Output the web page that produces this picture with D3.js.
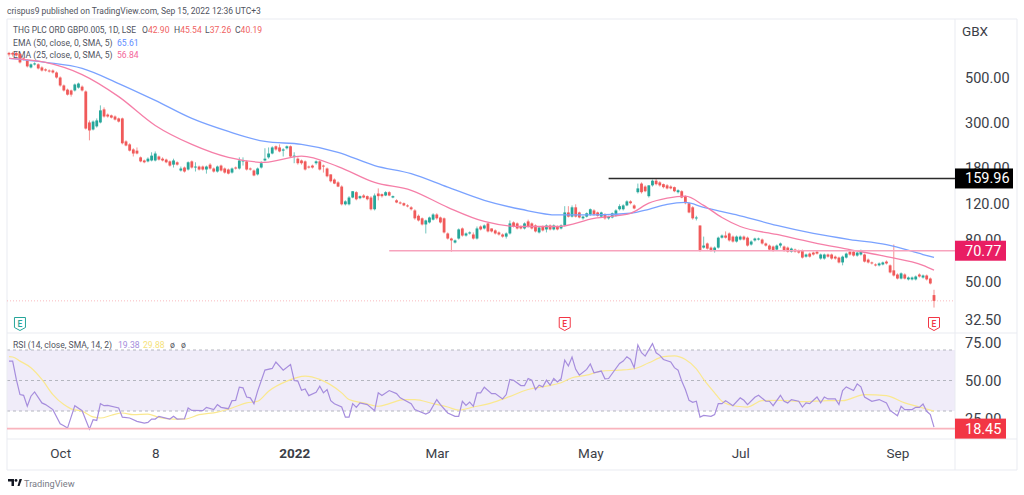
<!DOCTYPE html>
<html>
<head>
<meta charset="utf-8">
<script src="https://cdnjs.cloudflare.com/ajax/libs/d3/7.8.5/d3.min.js"></script>
<style>
html, body { margin: 0; padding: 0; background: #fff; }
svg { display: block; font-family: Roboto, sans-serif; }
.axis text { fill: #3b3e47; font-size: 14.5px; font-family: Roboto, sans-serif; }
.axis.time text { font-size: 13.5px; }
.axis path, .axis line { display: none; }
</style>
</head>
<body>
<div id="chart"></div>
<script>
// daily candles (GBX)
var opens = [
660,660,660,653,620,606,560,580,580,560,
548,541,541,529,500,457,436,432,432,446,
451,427,301,278,288,301,349,329,326,322,
315,315,243,235,222,219,203,196,194,196,
196,205,200,198,194,187,192,175,181,177,
194,181,183,183,177,187,179,173,185,179,
177,171,181,179,194,194,179,175,167.5,181,
196,203,212,230,227,219,225,230,207,200,
196,194,183,185,190,194,185,179,167.5,158,
153,146,119.5,119.5,129,137,128,132,131,129,
113,135,134,132,137,129,125,122,121,118,
115.5,111.5,105,102,95.2,97.4,100.5,106.5,103,102,
86,81.2,77.6,81.2,91,84,86,85,81.2,93,
91,96.3,91,89,87,85,83,86,97.4,96.3,
93,91,98.5,96.3,94.1,87,93,90,94.1,90,
93,91,94.1,109,104,115.5,109,102,104,106.5,
111.5,109,104,106.5,102,103,105,113,113,118,
123.5,118,137,151,146,131,148,156,153,150,
148,146,145,137,138.5,131,121,115.5,102,94.1,
73.3,76.8,73.3,71,73.3,82,84,86,83,78.5,
80.3,83,82,75.9,79.5,80.3,80.3,76.8,75,74.2,
71.7,75,74.2,73.3,70,71.7,71,71,66.2,68.5,
69.3,70,64.8,64.8,67.8,67.8,66.2,65.5,62,65.5,
70,70,67,67.8,67.8,64,62,60.6,60,60.6,
62.6,60,56.7,54.1,51.7,54.1,51.2,51.2,51.2,54.1,
52.3,53.5,51.7,42.9];
var closes = [
648,648,641,593,613,567,580,586,554,541,
541,535,529,500,457,432,412,412,462,467,
432,281,275,304,308,345,322,322,318,311,
304,238,232,219,212,212,194,192,200,207,
212,198,196,192,185,196,187,179,173,192,
181,183,177,177,183,179,173,183,175,171,
169,179,179,196,196,177,177,165.5,179,190,
200,212,227,222,217,222,230,205,207,190,
190,177,181,181,194,177,183,164,155,151,
146,119.5,123.5,129,138.5,126.5,131,129,126.5,113,
132,131,131,137,132,131,122,121,118,117,
113,102,99.6,95.2,99.6,103,106.5,102,97.4,87,
81.2,79.5,79.5,90,84,86,87,81.2,91,90,
94.1,88,88,86,85,83,86,96.3,93,91,
91,96.3,93,91,88,92,89,94.1,90,94.1,
90,94.1,109,104,115.5,104,103,104,108,113,
106.5,105,109,102,104,108,111.5,117,118,123.5,
121,114,143,137,138.5,148,156,150,148,145,
143,143,138.5,140,129,121,109,102,103,71,
75,72.5,71,73.3,82,84,82,79.5,78.5,83,
83,80.3,75,78.5,81.2,81.2,76.8,75,71.7,71,
75,76.8,71,70,72.5,70,69.3,65.5,67.8,66.2,
67.8,68.5,67.8,67.8,66.2,64.8,64.8,62,66.2,68.5,
67.8,67,69.3,71,62.6,62,61.3,60,61.3,62,
61.3,55.4,53.5,51.7,54.8,51.7,52.3,52.3,52.9,52.9,
53.5,51.2,48.9,40.19];
var highs = [
668,668,668,660,627,613,586,593,586,567,
554,548,548,535,506,462,441,436,467,472,
457,432,308,308,315,365,357,333,329,326,
318,318,246,238,225,227,205,198,203,215,
217,207,203,200,196,200,194,183,183,194,
196,192,185,185,185,190,181,185,187,181,
179,181,183,203,203,196,181,177,181,194,
225,227,230,232,235,225,232,232,215,203,
198,196,185,187,196,196,187,181,167.5,160,
155,148,125,131,138.5,138.5,132,134,132,131,
135,143,135,138.5,138.5,132,126.5,123.5,122,119.5,
117,113,106.5,103,100.5,104,108,108,104,103,
87,82,80.3,91,92,87,88,87,93,94.1,
95.2,97.4,91,90,88,86,87,99.6,98.5,97.4,
94.1,97.4,100.5,97.4,95.2,93,94.1,95.2,95.2,95.2,
94.1,95.2,117,117,118,119.5,110,105,109,114,
113,110,110,108,105,109,113,119.5,119.5,125,
125,119.5,151,153,148,148,158,160,155,151,
150,148,146,141.5,140,132,122,117,105,94.1,
83,77.6,74.2,74.2,83,85,88,87,84,84,
84,84,83,79.5,82,82,81.2,77.6,75.9,75,
75.9,77.6,75,74.2,73.3,72.5,71.7,71.7,68.5,69.3,
70,71,68.5,68.5,68.5,68.5,67,66.2,67,69.3,
71,71,70,71.7,68.5,64.8,62.6,61.3,62,62.6,
63.4,60.6,75.9,54.8,55.4,54.8,52.9,52.9,53.5,54.8,
54.1,54.1,52.3,45.54];
var lows = [
634,634,634,586,606,560,554,573,548,535,
535,529,523,494,451,427,408,403,427,441,
427,278,246,275,284,298,318,318,315,308,
301,235,230,217,205,210,192,190,192,194,
194,196,194,190,183,181,185,173,171,175,
179,173,175,175,169,177,171,171,173,169,
167.5,169,177,177,185,175,175,164,165.5,179,
194,200,210,219,215,205,222,203,190,187,
187,175,179,179,187,175,171,162,153,150,
145,118,118,118,128,125,126.5,128,125,111.5,
111.5,125,129,131,131,128,121,119.5,117,115.5,
111.5,100.5,98.5,94.1,86,96.3,99.6,100.5,96.3,86,
80.3,70,76.8,80.3,83,83,85,80.3,80.3,89,
90,87,87,85,84,82,81.2,85,92,90,
90,90,92,90,87,86,88,87,89,89,
89,90,93,103,103,103,102,100.5,103,105,
105,104,103,100.5,100.5,102,104,111.5,111.5,117,
119.5,113,135,135,137,129,146,148,146,143,
141.5,141.5,137,135,128,119.5,108,100.5,99.6,70,
72.5,71.7,70,69.3,72.5,81.2,81.2,78.5,77.6,77.6,
79.5,79.5,74.2,75,78.5,79.5,75.9,74.2,71,70,
71,73.3,70,69.3,69.3,69.3,68.5,64.8,65.5,65.5,
67,67.8,64,64,65.5,64,64,61.3,60,64.8,
67,66.2,66.2,67,62,61.3,60.6,59.3,59.3,60,
60.6,54.8,52.9,51.2,51.2,51.2,50.6,50.6,50.6,52.3,
51.7,50.6,48.4,37.26];

// moving averages, read at these bars
var emaBars = [0,10,20,30,40,50,60,70,80,90,100,110,120,130,140,150,160,170,175,180,185,190,195,200,210,220,230,240,250,253];
var ema50 = [620,593,554,467,386,315,272,243,235,215,185,169,145,125,113,106,106,108,113,119.5,122,115.5,110,105,94.1,86,80.3,75.9,67.8,65.61];
var ema25 = [620,593,517,403,291,235,203,192,206,183,153,140,115.5,98.5,93,93,102,108,121,128,131,118,103,93,85,77.6,71.7,66.2,60,56.84];

// RSI pane
var rsiBars = [0,1,2,3,4,5,6,7,9,10,12,14,15,16,18,20,22,23,24,25,26,27,30,31,33,35,37,38,39,40,41,44,45,46,48,49,50,53,54,56,57,58,60,61,62,63,64,65,66,67,68,70,72,73,75,77,78,79,80,81,82,84,85,86,87,88,89,91,
92,93,94,95,96,98,100,101,102,104,106,107,110,111,114,115,117,118,120,122,123,124,125,126,127,128,129,130,132,133,135,136,137,138,140,141,142,143,144,145,146,147,148,149,150,151,152,153,154,155,156,158,159,160,162,163,164,167,168,169,170,171,172,173,174,176,177,178,179,181,182,183,
184,185,186,187,188,189,190,192,193,194,195,196,198,200,201,202,204,205,207,208,209,211,212,213,214,216,217,218,219,221,222,223,224,226,227,228,229,231,232,233,234,236,238,240,241,243,244,245,247,248,249,250,251,252,253];
var rsiValues = [62.7,62.7,50.7,40.8,40.3,33.1,39.7,42.5,35.3,34.2,30.9,21.6,20.3,18.8,33.5,30.2,18.1,24.3,23.8,34.8,33.5,33.7,32,26,25.4,23.2,22.1,22.5,24.7,24.7,26.5,24.7,26.5,24.7,24.9,32,30.4,30.2,32.4,30.9,34.2,32.4,31.5,36.8,37,45.6,45.2,39.2,38.6,34.8,43,56.8,57.9,62.1,56.8,60.5,50,49.6,43.6,44.5,40.1,42.3,46.3,41.9,44.1,36.8,34.8,32.6,
26,26,34.8,32.4,35.3,34.2,30.2,41.9,40.1,43.4,41.4,38.6,34.8,30.9,28,29.1,37.5,34.2,28.7,26.5,26.5,36.4,33.7,35.9,33.1,41.9,41.9,45.6,41.4,41.4,37.9,40.8,50.7,50.2,46.7,46.7,51.3,50.2,44.1,46.9,45.8,50.2,46.9,51.3,49.1,51.1,63.4,59.5,65.4,57.3,53.5,57.3,60.8,55.1,56.2,51.1,51.3,61.2,62.7,65.6,63.8,58.4,73.3,68.2,66,74.2,68.2,66.5,63.8,62.1,58.4,56.8,
49.6,44.1,37,35.7,36.4,26,27.1,26.5,27.6,34.8,34.8,36.8,33.5,38.6,37,34.2,39,40.3,36.4,36.4,33.5,40.3,36.4,35.3,37.5,36.4,32.6,35.3,34.8,39.2,35.3,39.2,37.9,37.9,34.2,43.4,45.8,43.4,47.8,45.8,39.2,36.4,37.5,35.3,30.4,26.9,33.1,30.9,30.9,32.4,32.4,34.6,29.8,27.6,19.38];
var rsiMaBars = [0,1,3,6,9,12,15,17,20,23,25,28,31,34,38,41,45,48,52,57,61,65,68,71,76,81,85,91,93,97,101,104,108,111,116,120,123,127,132,136,142,147,151,154,158,162,167,171,175,179,182,185,188,190,193,195,199,202,206,211,217,224,228,234,240,245,249,253];
var rsiMa = [65.6,65.4,62.7,58.4,50.7,40.8,34.2,31.4,29.9,26.1,25.4,27.2,28.7,27.6,28,25.8,24.7,24.7,27.6,29.3,32,35.3,36.4,43,49.6,52.9,50.7,41.9,37.5,35.3,33.1,34.8,37.5,37.5,34.8,32.6,30.6,32.6,35.3,38.6,44.1,46.3,48.5,51.8,53.5,56.2,56.8,57.7,61.6,65.6,66.2,63.8,57.7,50.7,41.9,36.4,33.1,32.6,36.8,37,36.1,36.8,36.8,40.8,40.1,35.3,32.6,29.88];

var priceTicks = [500,300,180,120,80,50,32.5];
var rsiTicks = [75,50,25];
var rsiGuides = [70,50,30];
var timeBars = [14,40,78,117,159,200,243];
var timeLabels = ["Oct","8","2022","Mar","May","Jul","Sep"];
var earningsBars = [3,152,253];
var earningsColors = ["#26a69a","#f23645","#f23645"];

var lastPrice = 40.19, lastRsi = 18.45;
var levelValues = [70.77,159.96];
var levelStarts = [104,164];

var width = 1024, height = 495;
var up = "#26a69a", down = "#f05a5a", frame = "#e9ebf1";
var left = 7, axisX = 955, right = 1017;

var svg = d3.select("#chart").append("svg").attr("width", width).attr("height", height);

var x = d3.scaleLinear().domain([0, opens.length - 1]).range([9, 934]);
var y = d3.scaleLog().domain([500, 50]).range([77.5, 281.5]);
var yRsi = d3.scaleLinear().domain([70, 30]).range([350, 411]);

// rsi band goes under everything
svg.append("rect")
    .attr("x", left).attr("y", yRsi(70))
    .attr("width", axisX - left).attr("height", yRsi(30) - yRsi(70))
    .attr("fill", "#f0ecf9");
svg.selectAll(".guide").data(rsiGuides).enter().append("line")
    .attr("class", "guide")
    .attr("x1", left).attr("x2", axisX)
    .attr("y1", yRsi).attr("y2", yRsi)
    .attr("stroke", "#b4b6bf").attr("stroke-dasharray", "3 3");

// frame
var frameLines = [
    [left, 19, right, 19], [left, 470, right, 470], [left, 19, left, 470], [right, 19, right, 470],
    [axisX, 19, axisX, 470], [left, 333, right, 333], [left, 439, right, 439]
];
svg.selectAll(".frame").data(frameLines).enter().append("line")
    .attr("class", "frame")
    .attr("x1", function(d) { return d[0]; }).attr("y1", function(d) { return d[1]; })
    .attr("x2", function(d) { return d[2]; }).attr("y2", function(d) { return d[3]; })
    .attr("stroke", frame);

// header and legends
svg.append("text").attr("x", left).attr("y", 14).attr("font-size", 8.5).attr("fill", "#50535e")
    .text("crispus9 published on TradingView.com, Sep 15, 2022 12:36 UTC+3");

var legend = svg.append("g").attr("font-size", 8.6);
legend.append("text").attr("x", 13).attr("y", 33).attr("fill", "#50535e").attr("font-size", 8.4)
    .text("THG PLC ORD GBP0.005, 1D, LSE");
[["O", "42.90", 142], ["H", "45.54", 174], ["L", "37.26", 205], ["C", "40.19", 235]].forEach(function(d) {
    var t = legend.append("text").attr("x", d[2]).attr("y", 33).attr("fill", "#50535e");
    t.append("tspan").text(d[0]);
    t.append("tspan").attr("fill", "#f0625f").text(d[1]);
});
legend.append("text").attr("x", 13).attr("y", 45.5).attr("fill", "#50535e").text("EMA (50, close, 0, SMA, 5)");
legend.append("text").attr("x", 117).attr("y", 45.5).attr("fill", "#5f8dff").text("65.61");
legend.append("text").attr("x", 13).attr("y", 57.5).attr("fill", "#50535e").text("EMA (25, close, 0, SMA, 5)");
legend.append("text").attr("x", 117).attr("y", 57.5).attr("fill", "#f4679a").text("56.84");
legend.append("text").attr("x", 13).attr("y", 348).attr("fill", "#50535e").text("RSI (14, close, SMA, 14, 2)");
legend.append("text").attr("x", 118).attr("y", 348).attr("fill", "#a58ddc").text("19.38");
legend.append("text").attr("x", 143).attr("y", 348).attr("fill", "#f5e27a").text("29.88");
legend.append("text").attr("x", 170).attr("y", 348).attr("fill", "#50535e").text("ø");
legend.append("text").attr("x", 181).attr("y", 348).attr("fill", "#50535e").text("ø");

// last price dotted line
svg.append("line")
    .attr("x1", left).attr("x2", axisX)
    .attr("y1", y(lastPrice)).attr("y2", y(lastPrice))
    .attr("stroke", "#f9b9bd").attr("stroke-dasharray", "1 2");

// candles
var bars = d3.range(opens.length);
var bw = 2.8;
var color = function(i) { return closes[i] >= opens[i] ? up : down; };
var g = svg.append("g");
g.selectAll(".wick").data(bars).enter().append("line")
    .attr("class", "wick")
    .attr("x1", x).attr("x2", x)
    .attr("y1", function(i) { return y(highs[i]); })
    .attr("y2", function(i) { return y(lows[i]); })
    .attr("stroke", color).attr("stroke-opacity", 0.65);
g.selectAll(".body").data(bars).enter().append("rect")
    .attr("class", "body")
    .attr("x", function(i) { return x(i) - bw / 2; })
    .attr("y", function(i) { return y(Math.max(opens[i], closes[i])); })
    .attr("width", bw)
    .attr("height", function(i) { return Math.max(1, Math.abs(y(opens[i]) - y(closes[i]))); })
    .attr("fill", color);

// moving averages
var emaLine = d3.line()
    .x(function(d) { return x(d[0]); })
    .y(function(d) { return y(d[1]); })
    .curve(d3.curveMonotoneX);
svg.append("path").datum(d3.zip(emaBars, ema50)).attr("d", emaLine)
    .attr("fill", "none").attr("stroke", "#7aa2ff").attr("stroke-width", 1.3);
svg.append("path").datum(d3.zip(emaBars, ema25)).attr("d", emaLine)
    .attr("fill", "none").attr("stroke", "#f57fa8").attr("stroke-width", 1.3);

// drawn levels
svg.selectAll(".level").data(levelValues).enter().append("line")
    .attr("class", "level")
    .attr("x1", function(d, i) { return x(levelStarts[i]); }).attr("x2", axisX)
    .attr("y1", y).attr("y2", y)
    .attr("stroke", function(d, i) { return i ? "#2b2b2b" : "#f7a3bd"; })
    .attr("stroke-width", 1.5);

// earnings marks
var marks = svg.selectAll(".earn").data(earningsBars).enter().append("g")
    .attr("class", "earn")
    .attr("transform", function(d) { return "translate(" + x(d) + ",324)"; });
marks.append("path")
    .attr("d", "M-5.5,-6.5 H5.5 V3.5 L0,6.5 L-5.5,3.5 Z")
    .attr("fill", "#fff")
    .attr("stroke", function(d, i) { return earningsColors[i]; })
    .attr("stroke-linejoin", "round");
marks.append("text")
    .attr("text-anchor", "middle").attr("y", 3)
    .attr("font-size", 8.5).attr("font-weight", 500)
    .attr("fill", function(d, i) { return earningsColors[i]; })
    .text("E");

// rsi lines
var rsiLine = d3.line()
    .x(function(d) { return x(d[0]); })
    .y(function(d) { return yRsi(d[1]); });
svg.append("path").datum(d3.zip(rsiMaBars, rsiMa)).attr("d", rsiLine.curve(d3.curveMonotoneX))
    .attr("fill", "none").attr("stroke", "#fae88f").attr("stroke-width", 1.2);
svg.append("path").datum(d3.zip(rsiBars, rsiValues)).attr("d", rsiLine.curve(d3.curveLinear))
    .attr("fill", "none").attr("stroke", "#a68ddd").attr("stroke-width", 1.2);
svg.append("line")
    .attr("x1", left).attr("x2", axisX)
    .attr("y1", yRsi(lastRsi)).attr("y2", yRsi(lastRsi))
    .attr("stroke", "#f9b4bd").attr("stroke-width", 1.6);

// axes
svg.append("g").attr("class", "axis")
    .attr("transform", "translate(" + axisX + ",0)")
    .call(d3.axisRight(y).tickValues(priceTicks).tickSize(0).tickPadding(10).tickFormat(d3.format(".2f")));
svg.append("g").attr("class", "axis")
    .attr("transform", "translate(" + axisX + ",0)")
    .call(d3.axisRight(yRsi).tickValues(rsiTicks).tickSize(0).tickPadding(10).tickFormat(d3.format(".2f")));
var timeAxis = svg.append("g").attr("class", "axis time")
    .attr("transform", "translate(0,439)")
    .call(d3.axisBottom(x).tickValues(timeBars).tickSize(0).tickPadding(9)
        .tickFormat(function(d, i) { return timeLabels[i]; }));
timeAxis.selectAll("text")
    .style("font-weight", function(d, i) { return timeLabels[i] == "2022" ? 700 : 400; });

svg.append("text").attr("x", 962).attr("y", 36).attr("font-size", 13.5).attr("fill", "#3b3e47").text("GBX");

// price badges
var badges = [
    { scale: y, v: 159.96, color: "#000000", w: 58 },
    { scale: y, v: 70.77, color: "#e91e63", w: 51 },
    { scale: yRsi, v: 18.45, color: "#f23645", w: 51 }
];
badges.forEach(function(b) {
    var by = b.scale(b.v);
    svg.append("rect").attr("x", axisX).attr("y", by - 10).attr("width", b.w).attr("height", 20).attr("fill", b.color);
    svg.append("text").attr("x", 965).attr("y", by + 5)
        .attr("font-size", 14.5).attr("fill", "#fff").text(b.v.toFixed(2));
});

// footer logo
var logo = svg.append("g").attr("transform", "translate(8,479)").attr("fill", "#131722");
logo.append("path").attr("d", "M0,0 H6 V7 H3.5 V2.5 H0 Z");
logo.append("circle").attr("cx", 8).attr("cy", 1.4).attr("r", 1.4);
logo.append("path").attr("d", "M9.5,7 L11.5,0 H14 L11.5,7 Z");
svg.append("text").attr("x", 24).attr("y", 486.5).attr("font-size", 9.2).attr("fill", "#787b86").text("TradingView");
</script>
</body>
</html>
